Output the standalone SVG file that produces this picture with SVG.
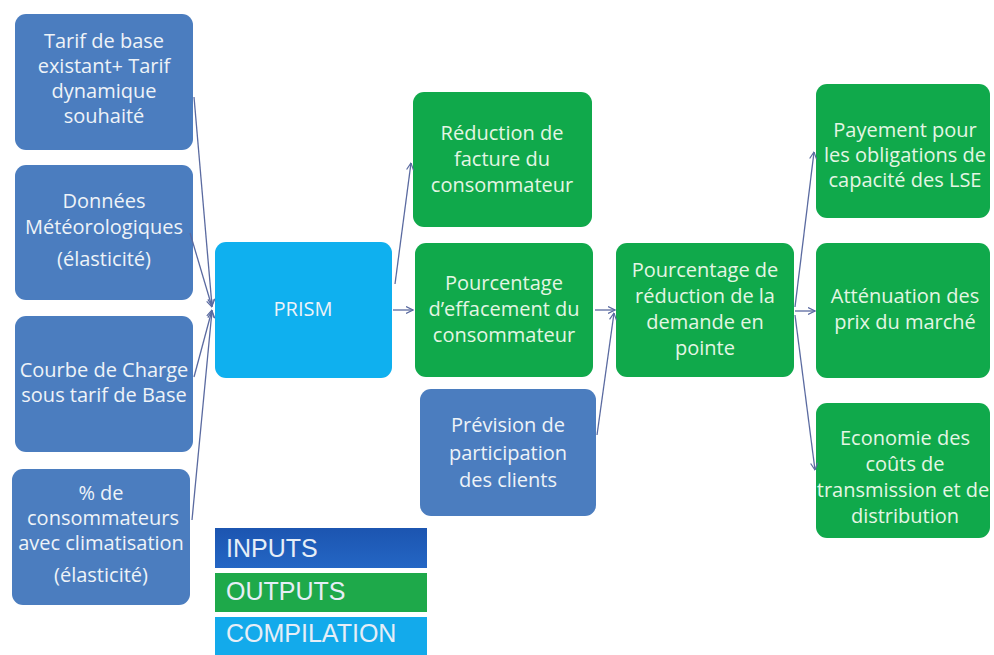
<svg xmlns="http://www.w3.org/2000/svg" width="994" height="655" viewBox="0 0 994 655">
<defs>
<style>
.in{fill:#4b7dbf}
.out{fill:#10a94b}
.cmp{fill:#0fb0ef}
.t{font-family:"Open Sans","Liberation Sans",sans-serif;font-size:20px;text-anchor:middle;fill:#eef3f8}
.tg{fill:#e4f6e4}
.lg{font-family:"Liberation Sans",Arial,sans-serif;font-size:25px;fill:#e6eef7}
.c{stroke:#5a6aa0;stroke-width:1.3;fill:none;marker-end:url(#a)}
</style>
<marker id="a" viewBox="0 0 8 8" refX="7.5" refY="4" markerWidth="8" markerHeight="8" markerUnits="userSpaceOnUse" orient="auto">
<path d="M0.5,0.5 L7.5,4 L0.5,7.5" fill="none" stroke="#5a6aa0" stroke-width="1.2"/>
</marker>
<linearGradient id="gi" x1="0" y1="0" x2="0" y2="1">
<stop offset="0" stop-color="#1c55b0"/>
<stop offset="1" stop-color="#2466c4"/>
</linearGradient>
</defs>
<rect width="994" height="655" fill="#ffffff"/>

<g id="n_tarif">
<rect class="in" x="15" y="14" width="178" height="136" rx="11"/>
<text class="t"><tspan x="104" y="48">Tarif de base</tspan><tspan x="104" y="73">existant+ Tarif</tspan><tspan x="104" y="98">dynamique</tspan><tspan x="104" y="123">souhaité</tspan></text>
</g>
<g id="n_meteo">
<rect class="in" x="15" y="165" width="178" height="135" rx="11"/>
<text class="t"><tspan x="104" y="208">Données</tspan><tspan x="104" y="234">Météorologiques</tspan><tspan x="104" y="266">(élasticité)</tspan></text>
</g>
<g id="n_courbe">
<rect class="in" x="15" y="316" width="178" height="136" rx="11"/>
<text class="t"><tspan x="104" y="377">Courbe de Charge</tspan><tspan x="104" y="402">sous tarif de Base</tspan></text>
</g>
<g id="n_clim">
<rect class="in" x="12" y="469" width="178" height="136" rx="11"/>
<text class="t"><tspan x="101" y="500">% de</tspan><tspan x="103" y="525">consommateurs</tspan><tspan x="101" y="550">avec climatisation</tspan><tspan x="101" y="582">(élasticité)</tspan></text>
</g>
<g id="n_prism">
<rect class="cmp" x="215" y="242" width="177" height="136" rx="11"/>
<text class="t" x="303" y="316">PRISM</text>
</g>
<g id="n_facture">
<rect class="out" x="413" y="92" width="179" height="135" rx="11"/>
<text class="t tg"><tspan x="502" y="140">Réduction de</tspan><tspan x="502" y="166">facture du</tspan><tspan x="502" y="192">consommateur</tspan></text>
</g>
<g id="n_effacement">
<rect class="out" x="415" y="243" width="178" height="134" rx="11"/>
<text class="t tg"><tspan x="504" y="290">Pourcentage</tspan><tspan x="504" y="316">d’effacement du</tspan><tspan x="504" y="342">consommateur</tspan></text>
</g>
<g id="n_prevision">
<rect class="in" x="420" y="389" width="176" height="127" rx="11"/>
<text class="t"><tspan x="508" y="432">Prévision de</tspan><tspan x="508" y="460">participation</tspan><tspan x="508" y="487">des clients</tspan></text>
</g>
<g id="n_pointe">
<rect class="out" x="616" y="243" width="178" height="134" rx="11"/>
<text class="t tg"><tspan x="705" y="277">Pourcentage de</tspan><tspan x="705" y="303">réduction de la</tspan><tspan x="705" y="329">demande en</tspan><tspan x="705" y="355">pointe</tspan></text>
</g>
<g id="n_payement">
<rect class="out" x="816" y="84" width="174" height="134" rx="11"/>
<text class="t tg"><tspan x="905" y="137">Payement pour</tspan><tspan x="905" y="162">les obligations de</tspan><tspan x="905" y="187">capacité des LSE</tspan></text>
</g>
<g id="n_attenuation">
<rect class="out" x="816" y="243" width="174" height="135" rx="11"/>
<text class="t tg"><tspan x="905" y="303">Atténuation des</tspan><tspan x="905" y="329">prix du marché</tspan></text>
</g>
<g id="n_economie">
<rect class="out" x="816" y="403" width="174" height="135" rx="11"/>
<text class="t tg"><tspan x="905" y="445">Economie des</tspan><tspan x="905" y="471">coûts de</tspan><tspan x="903" y="497">transmission et de</tspan><tspan x="905" y="523">distribution</tspan></text>
</g>

<g id="legend">
<rect x="215" y="528" width="212" height="40" fill="url(#gi)"/>
<text class="lg" x="226" y="557">INPUTS</text>
<rect x="215" y="573" width="212" height="39" fill="#1ea94a"/>
<text class="lg" x="226" y="600" fill="#d8f3d0">OUTPUTS</text>
<rect x="215" y="617" width="212" height="38" fill="#13aaeb"/>
<text class="lg" x="226" y="642">COMPILATION</text>
</g>

<g id="connectors">
<line class="c" x1="194" y1="97" x2="212" y2="306"/>
<line class="c" x1="190" y1="233" x2="212" y2="307"/>
<line class="c" x1="194" y1="377" x2="212" y2="310"/>
<line class="c" x1="192" y1="520" x2="212" y2="311"/>
<line class="c" x1="395" y1="284" x2="411" y2="163"/>
<line class="c" x1="393" y1="310" x2="413" y2="310"/>
<line class="c" x1="595" y1="310" x2="615" y2="310"/>
<line class="c" x1="597" y1="435" x2="614" y2="313"/>
<line class="c" x1="795" y1="307" x2="814" y2="152"/>
<line class="c" x1="795" y1="311" x2="815" y2="311"/>
<line class="c" x1="795" y1="315" x2="815" y2="470"/>
</g>
</svg>
